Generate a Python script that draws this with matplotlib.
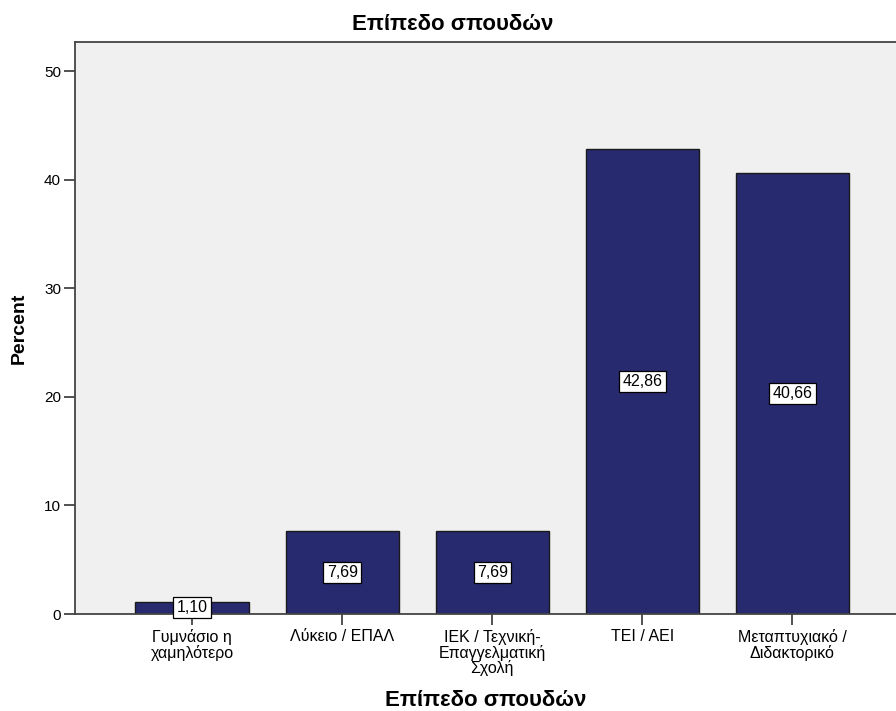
import matplotlib.pyplot as plt
import numpy as np

plt.rcParams['font.family'] = ['Liberation Sans', 'DejaVu Sans']

categories = ['Γυμνάσιο η\nχαμηλότερο', 'Λύκειο / ΕΠΑΛ',
              'ΙΕΚ / Τεχνική-\nΕπαγγελματική\nΣχολή', 'ΤΕΙ / ΑΕΙ',
              'Μεταπτυχιακό /\nΔιδακτορικό']
percent = [1.10, 7.69, 7.69, 42.86, 40.66]
value_labels = ['1,10', '7,69', '7,69', '42,86', '40,66']
yticks = [0, 10, 20, 30, 40, 50]

fig = plt.figure(figsize=(8.96, 7.11), dpi=100)
ax = fig.add_axes([75 / 896, 97 / 711, 1 - 75 / 896, (614 - 42) / 711])
ax.set_facecolor('#f0f0f0')

x = np.arange(len(categories))
ax.bar(x, percent, width=0.755, color='#272a6e', edgecolor='#1a1a1a', linewidth=1.0)

for xi, v, lab in zip(x, percent, value_labels):
    y = v / 2 if v > 2 else 0.6
    ax.text(xi, y, lab, ha='center', va='center', fontsize=11.5,
            bbox=dict(boxstyle='square,pad=0.2', facecolor='white', edgecolor='black', linewidth=0.9))

ax.set_xlim(-0.78, 4.69)
ax.set_ylim(0, 52.7)
ax.set_yticks(yticks)
ax.set_xticks(x)
ax.set_xticklabels(categories, fontsize=11.5, linespacing=0.95)
ax.tick_params(axis='y', labelsize=11, length=8, width=1.2, color='#333333', pad=2)
ax.tick_params(axis='x', length=8, width=1.2, color='#333333', pad=3)

for s in ['left', 'top', 'bottom']:
    ax.spines[s].set_linewidth(1.3)
    ax.spines[s].set_color('#444444')
ax.spines['right'].set_visible(False)

fig.text(453 / 896, 1 - 24 / 711, 'Επίπεδο σπουδών', ha='center', va='center',
         fontsize=16, fontweight='bold')
ax.set_xlabel('Επίπεδο σπουδών', fontsize=16, fontweight='bold', labelpad=10)
ax.set_ylabel('Percent', fontsize=14, fontweight='bold', labelpad=12)

fig.savefig('out.png', dpi=100)
